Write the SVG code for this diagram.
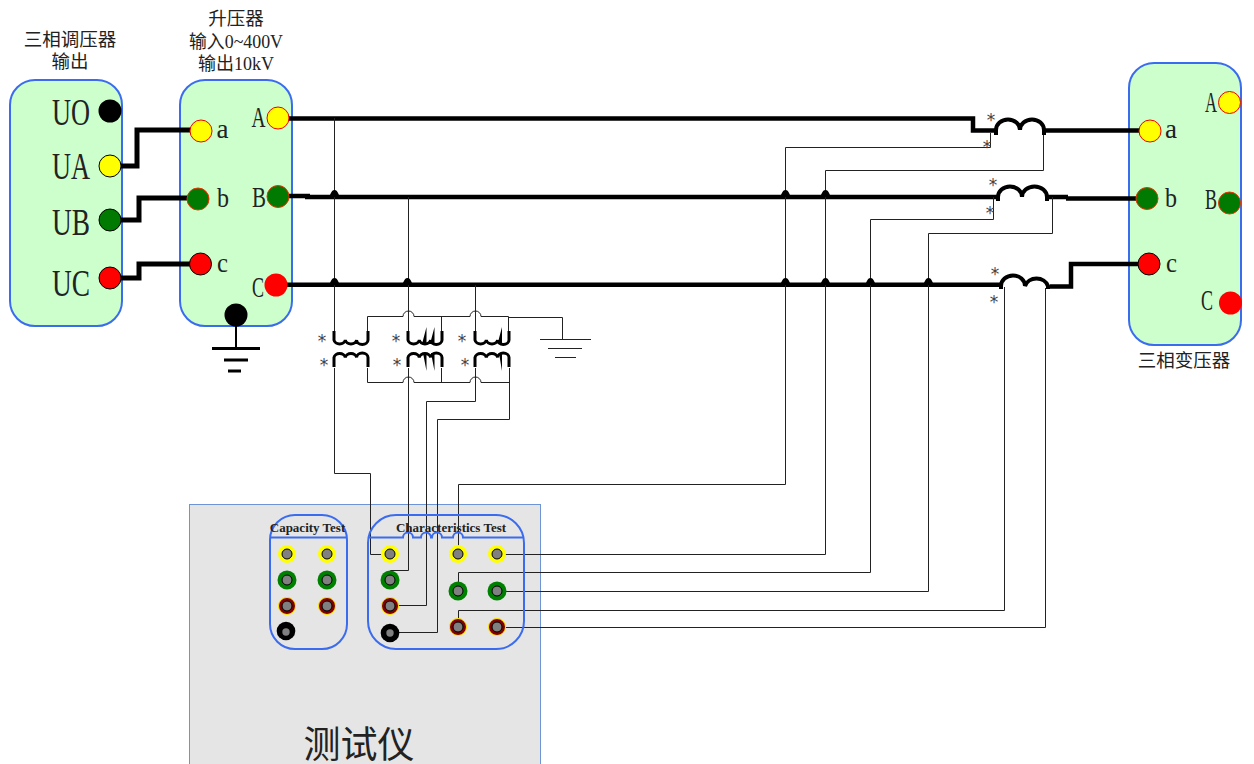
<svg xmlns="http://www.w3.org/2000/svg" width="1254" height="764" viewBox="0 0 1254 764">
<style>
text{font-family:"Liberation Serif","Noto Sans CJK SC",serif;fill:#222}
.box{fill:#ccffcc;stroke:#3b6cf0;stroke-width:2}
.tbox{fill:none;stroke:#3b6cf0;stroke-width:2}
.big{stroke:#000;stroke-width:4.500;fill:none}
.fat{stroke:#000;stroke-width:5;fill:none}
.thin{stroke:#222;stroke-width:1;fill:none}
.coil{stroke:#000;stroke-width:3;fill:none}
.lc{stroke:#000;stroke-width:4;fill:none}
.hop{fill:#000}
.star{font-family:"DejaVu Sans",sans-serif;font-size:17px;text-anchor:middle;fill:#444}
.lbl{font-size:28px}
.cl{font-size:30px}
.u{font-size:38px}
.cap{font-size:18.500px;text-anchor:middle}
.hd{font-size:13px;font-weight:bold;text-anchor:middle}
.y{fill:#ffff00;stroke:#ee0000;stroke-width:1}
.g{fill:#007a00;stroke:#ee3300;stroke-width:1}
.r{fill:#ff0000;stroke:#000;stroke-width:1}
.r0{fill:#ff0000}
.k{fill:#000}
.iy{fill:#ffff00}.ig{fill:#008000}.ir{fill:#800000;stroke:#ffee00;stroke-width:1}
.in{fill:#808080;stroke:#000;stroke-width:1}
.in2{fill:#808080}
</style>
<defs>
<circle id="pin" r="5" class="in"/>
<path id="h" class="hop" d="M-6.500 1C-4 1 -4 -6 0 -6C4 -6 4 1 6.500 1Z"/>
</defs>

<g id="tester">
<rect x="189.500" y="504.500" width="351" height="275" fill="#e5e5e5" stroke="#6f94d6" stroke-width="1"/>
<text x="359" y="758" font-size="37" text-anchor="middle">测试仪</text>
</g>

<g id="node-regulator">
<rect class="box" x="10" y="80" width="112" height="246" rx="25"/>
<text class="cap" x="70" y="45.500">三相调压器</text>
<text class="cap" x="70" y="67.500">输出</text>
<text class="u" x="52" y="125" textLength="38" lengthAdjust="spacingAndGlyphs">UO</text>
<text class="u" x="52" y="179" textLength="38" lengthAdjust="spacingAndGlyphs">UA</text>
<text class="u" x="52" y="235" textLength="38" lengthAdjust="spacingAndGlyphs">UB</text>
<text class="u" x="52" y="296" textLength="38" lengthAdjust="spacingAndGlyphs">UC</text>
</g>
<g id="node-booster">
<rect class="box" x="180" y="80" width="112" height="246" rx="25"/>
<text class="cap" x="236" y="25">升压器</text>
<text class="cap" x="236" y="47.500" textLength="94" lengthAdjust="spacingAndGlyphs">输入0~400V</text>
<text class="cap" x="236" y="70" textLength="76" lengthAdjust="spacingAndGlyphs">输出10kV</text>
<text class="lbl" x="216.500" y="138" textLength="12" lengthAdjust="spacingAndGlyphs">a</text>
<text class="lbl" x="217" y="207" textLength="12" lengthAdjust="spacingAndGlyphs">b</text>
<text class="lbl" x="217" y="272" textLength="11" lengthAdjust="spacingAndGlyphs">c</text>
<text class="cl" x="251.500" y="127" textLength="14" lengthAdjust="spacingAndGlyphs">A</text>
<text class="cl" x="252" y="207" textLength="14" lengthAdjust="spacingAndGlyphs">B</text>
<text class="cl" x="252" y="297" textLength="12" lengthAdjust="spacingAndGlyphs">C</text>
</g>
<g id="node-transformer">
<rect class="box" x="1129" y="63" width="112" height="282" rx="25"/>
<text class="cap" x="1184" y="367">三相变压器</text>
<text class="lbl" x="1165" y="138" textLength="12" lengthAdjust="spacingAndGlyphs">a</text>
<text class="lbl" x="1165" y="207" textLength="12" lengthAdjust="spacingAndGlyphs">b</text>
<text class="lbl" x="1166" y="272" textLength="11" lengthAdjust="spacingAndGlyphs">c</text>
<text class="cl" x="1205" y="111.500" textLength="12" lengthAdjust="spacingAndGlyphs">A</text>
<text class="cl" x="1205" y="209" textLength="12" lengthAdjust="spacingAndGlyphs">B</text>
<text class="cl" x="1201" y="310" textLength="12" lengthAdjust="spacingAndGlyphs">C</text>
</g>

<g id="connectors">
<path class="fat" d="M120 166H137V130H192"/>
<path class="fat" d="M120 220H139V198H190"/>
<path class="fat" d="M120 278H139V264H192"/>
<path class="big" d="M287 118.500H973V130.500H996M1044 130.500H1142"/>
<path class="big" d="M287 196H310M305 197H998M1047 197H1068M1066 198.500H1140"/>
<path class="big" d="M280 284.700H1000M1050 286.500H1071V264H1142"/>
<path class="thin" d="M334.500 118V331M334.500 368V473.500H370.500V554.500H382"/>
<path class="thin" d="M408.500 197V331M408.500 368V570.500H390.500V575"/>
<path class="thin" d="M475.500 285V331M475.500 368V401.500H426.500V605.500H396"/>
<path class="thin" d="M509.500 368V419.500H437.500V632.500H396"/>
<path class="thin" d="M367.500 331V316.500H403A5 5 0 0 1 414 316.500H470A5 5 0 0 1 481 316.500H508.500V331M441.500 316.500V331"/>
<path class="thin" d="M367.500 368V382.500H403A5 5 0 0 1 414 382.500H470A5 5 0 0 1 481 382.500H509.500V368M441.500 382.500V368"/>
<path class="thin" d="M508.500 317.500H562.500V339"/>
<path class="thin" d="M540 339.500H591M548 348.500H582M555 357.500H576"/>
<path class="thin" d="M990.500 133V147.500H785.500V484.500H458.500V548"/>
<path class="thin" d="M1043.500 134V170.500H825.500V554.500H503"/>
<path class="thin" d="M993.500 197V219.500H870.500V572.500H458.500V585"/>
<path class="thin" d="M1052.500 197V233.500H928.500V591.500H503"/>
<path class="thin" d="M1004.500 287V610.500H458.500V622"/>
<path class="thin" d="M1045.500 288V627.500H503"/>
<use href="#h" x="334.500" y="196"/>
<use href="#h" x="785.500" y="196"/>
<use href="#h" x="825.500" y="196"/>
<use href="#h" x="334.500" y="284"/>
<use href="#h" x="407.500" y="284"/>
<use href="#h" x="785.500" y="284"/>
<use href="#h" x="825.500" y="284"/>
<use href="#h" x="870.500" y="284"/>
<use href="#h" x="928.500" y="284"/>
</g>

<g id="node-ground-main">
<path d="M236 326V348" stroke="#000" stroke-width="2" fill="none"/>
<path d="M212 348.500H260M224 360H248M228 371H241" stroke="#000" stroke-width="3" fill="none"/>
<circle class="k" cx="236" cy="315" r="11.500"/>
</g>

<g id="terminals-regulator">
<circle class="k" cx="110" cy="111" r="11.500"/>
<circle cx="110" cy="166" r="11" fill="#ffff00" stroke="#000"/>
<circle cx="110" cy="220" r="11" fill="#007a00" stroke="#000"/>
<circle cx="110" cy="278" r="11" fill="#ff0000" stroke="#000"/>
</g>
<g id="terminals-booster">
<circle class="y" cx="201" cy="131" r="11"/>
<circle class="g" cx="198" cy="199" r="11"/>
<circle class="r" cx="200.500" cy="264" r="11"/>
<circle class="y" cx="278" cy="118" r="11"/>
<circle class="g" cx="278" cy="196.500" r="11"/>
<circle class="r0" cx="276" cy="285" r="11.500"/>
</g>
<g id="terminals-transformer">
<circle class="y" cx="1150" cy="131" r="11"/>
<circle class="g" cx="1147" cy="198.500" r="11"/>
<circle class="r" cx="1149" cy="264" r="11"/>
<circle class="y" cx="1229.500" cy="102.500" r="11"/>
<circle class="g" cx="1229.500" cy="203" r="11"/>
<circle class="r0" cx="1230.500" cy="303" r="11.500"/>
</g>

<g id="node-line-ct-a">
<path class="lc" d="M996 135V130A12 10.500 0 0 1 1020 130A12 10.500 0 0 1 1044 130V135"/>
<text class="star" x="991" y="126">*</text><text class="star" x="987" y="153">*</text>
</g>
<g id="node-line-ct-b">
<path class="lc" d="M998 201V197A12 10.500 0 0 1 1022 197A12.500 10.500 0 0 1 1047 197V201"/>
<text class="star" x="993" y="191">*</text><text class="star" x="990" y="219">*</text>
</g>
<g id="node-line-ct-c">
<path class="lc" d="M1001 289V286A12 10.500 0 0 1 1025 286A12 10.500 0 0 1 1048 286V289"/>
<text class="star" x="995" y="280">*</text><text class="star" x="994" y="308">*</text>
</g>

<g id="node-vt-a">
<path class="coil" d="M334 331V340A5.700 4.500 0 0 0 345.300 340A5.700 4.500 0 0 0 356.600 340A5.700 4.500 0 0 0 368 340V331"/>
<path class="coil" d="M334 367V357.500A5.700 4.500 0 0 1 345.300 357.500A5.700 4.500 0 0 1 356.600 357.500A5.700 4.500 0 0 1 368 357.500V367"/>
<text class="star" x="322" y="347">*</text><text class="star" x="324" y="370.500">*</text>
</g>
<g id="node-vt-b">
<path class="coil" d="M408 331V340A5.700 4.500 0 0 0 419.300 340A5.700 4.500 0 0 0 430.600 340A5.700 4.500 0 0 0 442 340V331"/>
<path class="coil" d="M408 367V357.500A5.700 4.500 0 0 1 419.300 357.500A5.700 4.500 0 0 1 430.600 357.500A5.700 4.500 0 0 1 442 357.500V367"/>
<path d="M422 344L426.500 327V344ZM430 344L434.500 327V344ZM423 353L426.500 371V353ZM431 353L434.500 371V353Z" fill="#000"/>
<text class="star" x="396" y="347">*</text><text class="star" x="397" y="370.500">*</text>
</g>
<g id="node-vt-c">
<path class="coil" d="M475 331V340A5.700 4.500 0 0 0 486.300 340A5.700 4.500 0 0 0 497.600 340A5.700 4.500 0 0 0 509 340V331"/>
<path class="coil" d="M475 367V357.500A5.700 4.500 0 0 1 486.300 357.500A5.700 4.500 0 0 1 497.600 357.500A5.700 4.500 0 0 1 509 357.500V367"/>
<path d="M497.500 344L502 327V344ZM499 353L502 371V353Z" fill="#000"/>
<text class="star" x="462" y="347">*</text><text class="star" x="465" y="370.500">*</text>
</g>

<g id="node-capacity-test">
<rect class="tbox" x="270" y="515" width="77" height="134" rx="25"/>
<path class="tbox" d="M270 537.500H347"/>
<text class="hd" x="307.500" y="532">Capacity Test</text>
<circle class="iy" cx="287" cy="554" r="9"/><use href="#pin" x="287" y="554"/>
<circle class="iy" cx="327" cy="554" r="9"/><use href="#pin" x="327" y="554"/>
<circle class="ig" cx="287" cy="580" r="9.500"/><use href="#pin" x="287" y="580"/>
<circle class="ig" cx="327" cy="580" r="9.500"/><use href="#pin" x="327" y="580"/>
<circle class="ir" cx="287" cy="606" r="8.500"/><use href="#pin" x="287" y="606"/>
<circle class="ir" cx="327" cy="606" r="8.500"/><use href="#pin" x="327" y="606"/>
<circle class="k" cx="286" cy="631" r="9.300"/><circle class="in2" cx="286" cy="632" r="3.700"/>
</g>
<g id="node-characteristics-test">
<rect class="tbox" x="368" y="515" width="156" height="134" rx="28"/>
<path class="tbox" d="M368 537.500H403A5 5 0 0 1 413 537.500H421A5 5 0 0 1 431 537.500H432A5 5 0 0 1 442 537.500H453A5 5 0 0 1 463 537.500H524"/>
<text class="hd" x="451" y="532">Characteristics Test</text>
<circle class="iy" cx="390" cy="554" r="9"/><use href="#pin" x="390" y="554"/>
<circle class="iy" cx="458" cy="554" r="9"/><use href="#pin" x="458" y="554"/>
<circle class="iy" cx="497" cy="554" r="9"/><use href="#pin" x="497" y="554"/>
<circle class="ig" cx="390" cy="580" r="9.500"/><use href="#pin" x="390" y="580"/>
<circle class="ig" cx="458" cy="591" r="9.500"/><use href="#pin" x="458" y="591"/>
<circle class="ig" cx="497" cy="591" r="9.500"/><use href="#pin" x="497" y="591"/>
<circle class="ir" cx="390" cy="606" r="8.500"/><use href="#pin" x="390" y="606"/>
<circle class="ir" cx="458" cy="627" r="8.500"/><use href="#pin" x="458" y="627"/>
<circle class="ir" cx="497" cy="627" r="8.500"/><use href="#pin" x="497" y="627"/>
<circle class="k" cx="390" cy="633" r="9.300"/><circle class="in2" cx="390" cy="633" r="3.700"/>
</g>
</svg>
